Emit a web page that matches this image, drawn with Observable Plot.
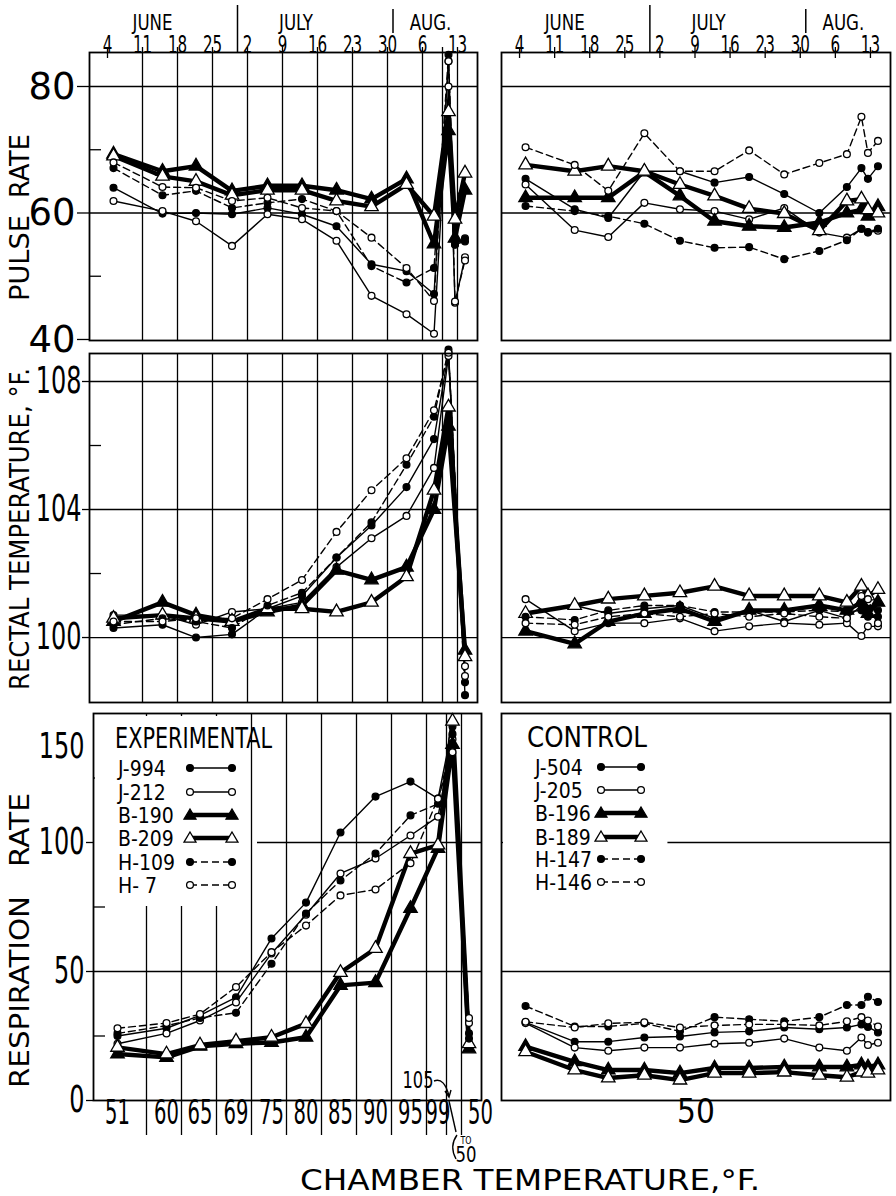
<!DOCTYPE html>
<html><head><meta charset="utf-8">
<script src="https://cdn.jsdelivr.net/npm/d3@7"></script>
<script src="https://cdn.jsdelivr.net/npm/@observablehq/plot@0.6"></script>
<style>
html,body{margin:0;padding:0;background:#fff;}
#fig{position:relative;width:896px;height:1196px;overflow:hidden;background:#fff;}
#fig svg{position:absolute;}
</style></head><body><div id="fig"></div>
<script>
// ---------- DATA ----------
// day of the summer (June 1 = 1, July 2 = 32, Aug 13 = 74) of each observation
const days = [5.2, 15, 21.7, 28.9, 36, 42.9, 49.8, 56.8, 63.8, 69.3, 72.2, 73.5, 75.5];
const expIds = ["J-994", "J-212", "B-190", "B-209", "H-109", "H- 7"];
const ctlIds = ["J-504", "J-205", "B-196", "B-189", "H-147", "H-146"];
const dateTicks = [4, 11, 18, 25, 32, 39, 46, 53, 60, 67, 74];
const dateLabels = ["4", "11", "18", "25", "2", "9", "16", "23", "30", "6", "13"];
const months = ["JUNE", "JULY", "AUG."];
const monthDays = [13, 41.7, 68.6];
const monthBreaks = [30, 61.1];
const gridDays = [11, 18, 25, 32, 39, 46, 53, 60, 67, 71, 74];
const chamberTemps = ["51", "60", "65", "69", "75", "80", "85", "90", "95", "99"];
const chamberEnd = "50";
const controlChamber = "50";

// Pulse rate (rows follow expIds / ctlIds)
const expPulse = [
  [64.0, 59.9, 60.0, 59.8, 60.8, 59.8, 57.9, 51.9, 50.8, 47.2, 84.0, 55.0, 55.5],
  [61.9, 60.3, 58.7, 54.8, 59.8, 59.0, 55.6, 46.9, 44.0, 40.9, 80.0, 45.8, 53.0],
  [69.3, 66.6, 67.4, 63.5, 64.3, 64.3, 63.6, 62.2, 65.4, 55.1, 73.0, 56.0, 63.6],
  [69.0, 65.8, 65.0, 62.8, 63.6, 63.6, 61.9, 61.0, 64.5, 59.5, 76.0, 59.0, 66.3],
  [67.1, 62.8, 63.5, 60.8, 61.6, 62.2, 60.3, 51.6, 49.0, 51.3, 85.0, 55.0, 56.0],
  [68.0, 64.1, 64.0, 61.9, 62.4, 60.8, 60.3, 56.1, 51.3, 46.1, 84.0, 46.0, 52.5]
];
const ctlPulse = [
  [65.4, 60.6, 59.2, 66.6, 66.6, 64.8, 65.7, 63.0, 60.0, 64.1, 67.1, 65.4, 67.4],
  [64.5, 57.3, 56.2, 61.6, 60.6, 60.3, 59.0, 60.8, 56.9, 56.1, 57.5, 56.9, 57.2],
  [62.4, 62.4, 62.4, 66.5, 62.7, 58.7, 57.9, 57.7, 58.5, 60.0, 60.5, 59.5, 61.0],
  [67.6, 66.6, 67.4, 66.6, 64.5, 62.7, 60.7, 59.9, 57.2, 61.9, 62.2, 60.5, 60.0],
  [61.1, 60.3, 59.5, 58.3, 55.6, 54.5, 54.6, 52.7, 54.0, 55.7, 57.5, 57.0, 57.5],
  [70.4, 67.6, 63.5, 72.6, 66.6, 66.6, 69.9, 66.1, 67.9, 69.3, 75.2, 69.5, 71.4]
];
// Rectal temperature, °F
const expRectal = [
  [100.3, 100.4, 100.0, 100.1, 100.9, 101.3, 102.5, 103.5, 104.7, 106.2, 108.9, null, 98.6],
  [100.7, 100.7, 100.4, 100.8, 100.9, 101.1, 102.2, 103.1, 103.8, 105.3, 108.8, null, 99.1],
  [100.5, 101.1, 100.7, 100.5, 100.8, 101.0, 102.1, 101.8, 102.2, 104.0, 106.6, null, 99.6],
  [100.6, 100.7, 100.6, 100.5, 100.9, 100.9, 100.8, 101.1, 101.9, 104.6, 107.2, null, 99.4],
  [100.4, 100.6, 100.5, 100.3, 101.0, 101.4, 102.5, 103.6, 105.4, 106.9, 109.0, null, 98.2],
  [100.5, 100.5, 100.6, 100.6, 101.2, 101.8, 103.3, 104.6, 105.6, 107.1, 108.9, null, 98.8]
];
const ctlRectal = [
  [100.75, 101.0, 100.75, 100.9, 101.0, 100.6, 100.85, 100.5, 100.85, 100.6, 101.0, 100.65, 100.65],
  [101.2, 100.2, 100.45, 100.45, 100.6, 100.2, 100.35, 100.45, 100.4, 100.45, 100.05, 100.35, 100.35],
  [100.2, 99.8, 100.5, 100.75, 100.9, 100.5, 100.85, 100.85, 101.0, 100.85, 101.1, 100.75, 101.1],
  [100.75, 101.0, 101.2, 101.3, 101.4, 101.6, 101.3, 101.3, 101.3, 101.1, 101.6, 101.3, 101.5],
  [100.65, 100.55, 100.85, 101.0, 101.0, 100.8, 100.8, 100.8, 100.85, 100.8, 100.85, 100.9, 100.85],
  [100.45, 100.4, 100.65, 100.75, 100.65, 100.75, 100.65, 100.75, 100.65, 100.6, 101.3, 101.2, 100.45]
];
// Respiration rate
const expResp = [
  [25, 28, 33, 40, 62.8, 76.7, 103.9, 117.8, 123.6, 117, 145, null, 26],
  [22, 26, 31, 38, 57, 72, 88, 93.8, 102.7, 110, 140, null, 30],
  [18, 16.7, 21, 22, 22.5, 24.5, 44.6, 45.7, 74.4, 97.7, 138, null, 20],
  [20.6, 18, 21.5, 23, 24.5, 29.8, 49.6, 58.9, 95.7, 99, 147, null, 22],
  [26, 29, 32, 34, 53, 72.5, 85.3, 95.7, 110.5, 115, 142, null, 24],
  [28, 30, 33.5, 44, 57.5, 67.8, 79.5, 81.8, 92, 117, 135, null, 32]
];
const ctlResp = [
  [30.3, 22.8, 22.8, 24.4, 24.8, 26.4, 26.8, 28.3, 27.6, 28.3, 29.5, 28.5, 26.4],
  [30.0, 20.5, 19.3, 20.5, 20.5, 22.0, 22.4, 24.0, 20.5, 19.3, 24.4, 21.5, 22.4],
  [20.9, 15.0, 11.8, 11.8, 10.6, 12.6, 12.6, 13.0, 13.0, 13.0, 13.8, 13.0, 13.8],
  [18.9, 11.8, 8.7, 9.8, 7.9, 10.6, 10.6, 11.0, 9.8, 9.0, 11.0, 10.6, 11.8],
  [36.6, 28.7, 28.7, 29.9, 26.8, 32.3, 31.5, 30.7, 32.3, 37.0, 37.0, 40.2, 38.2],
  [30.5, 28.3, 29.9, 30.3, 28.3, 29.1, 29.5, 29.5, 29.1, 30.7, 32.3, 31.0, 28.7]
];

// ---------- STYLE / LAYOUT ----------
const FONT = '"DejaVu Sans Condensed","DejaVu Sans",sans-serif';
const seriesStyle = [
  {w: 1.4, dash: undefined, sym: "circle", fill: "black", r: 3.4},
  {w: 1.4, dash: undefined, sym: "circle", fill: "white", r: 3.4},
  {w: 4.4, dash: undefined, sym: "triangle", fill: "black", r: 5.0},
  {w: 4.4, dash: undefined, sym: "triangle", fill: "white", r: 5.0},
  {w: 1.4, dash: "7,4", sym: "circle", fill: "black", r: 3.4},
  {w: 1.4, dash: "7,4", sym: "circle", fill: "white", r: 3.4}
];
const xDomain = [0.4, 78];
const pulseDomain = [39.84, 85.375];
const rectalDomain = [97.97, 108.875];
const respDomain = [0, 150];
const rows = {pulse: [52, 340], rectal: [353, 702], resp: [713, 1100]};
const colL = [89, 477], colLresp = [93, 481], colR = [501, 890];
// font sizes double as selectors for horizontal text compression
const FS = {date: 24, month: 21, pulseY: 38, otherY: 37, top150: 36, chamber: 34, ctlChamber: 33};
const fig = document.getElementById("fig");

function seriesMarks(table, ids) {
  const lines = [], dots = [];
  table.forEach((vals, k) => {
    const s = seriesStyle[k];
    const pts = vals.map((v, i) => ({id: ids[k], x: days[i], y: v})).filter(p => p.y != null);
    lines.push(Plot.line(pts, {x: "x", y: "y", stroke: "black", strokeWidth: s.w,
      strokeDasharray: s.dash, strokeLinejoin: "round", strokeLinecap: "round"}));
    dots.push(Plot.dot(pts, {x: "x", y: "y", symbol: s.sym, r: s.r, fill: s.fill,
      stroke: "black", strokeWidth: 1.3}));
  });
  return [...lines, ...dots];
}

function squeeze(svg, size, f) {
  svg.querySelectorAll(`g[font-size="${size}"] text`).forEach(t => {
    const L = t.getComputedTextLength();
    if (L > 0) { t.setAttribute("textLength", L * f); t.setAttribute("lengthAdjust", "spacingAndGlyphs"); }
  });
}

function panel({cols, row, yDomain, yAxis, marks, squeezes = []}) {
  const ml = 95, mr = 20, mt = 58, mb = 50;
  const [x0, x1] = cols, [y0, y1] = row;
  const svg = Plot.plot({
    width: x1 - x0 + ml + mr, height: y1 - y0 + mt + mb,
    marginLeft: ml, marginRight: mr, marginTop: mt, marginBottom: mb,
    x: {domain: xDomain, axis: null, label: null},
    y: yAxis ? {domain: yDomain, label: null} : {domain: yDomain, axis: null, label: null},
    style: {background: "transparent", overflow: "visible", fontFamily: FONT, color: "black"},
    marks
  });
  svg.style.position = "absolute";
  svg.style.left = (x0 - ml) + "px";
  svg.style.top = (y0 - mt) + "px";
  fig.appendChild(svg);
  squeezes.forEach(([size, f]) => squeeze(svg, size, f));
  return svg;
}

// helpers converting pixel offsets into scale units
const ky = (dom, row) => (row[1] - row[0]) / (dom[1] - dom[0]);
const kx = (cols) => (cols[1] - cols[0]) / (xDomain[1] - xDomain[0]);

function topAxisMarks(dom, row, leftStyle) {
  const k = ky(dom, row), top = dom[1];
  const m = [];
  m.push(Plot.ruleX(leftStyle ? [dateTicks[0]] : dateTicks, {y1: top - 6 / k, y2: top + 5 / k, strokeWidth: 1.3}));
  const breakTop = [47, 43], breakBot = [0, 19];
  monthBreaks.forEach((d, i) => m.push(Plot.ruleX([d], {y1: top + breakBot[i] / k, y2: top + breakTop[i] / k, strokeWidth: 1.5})));
  m.push(Plot.text(dateTicks, {x: d => d, text: (d, i) => dateLabels[i], frameAnchor: "top",
    lineAnchor: "bottom", dy: 0, fontSize: FS.date}));
  m.push(Plot.text(months, {x: (d, i) => monthDays[i], text: d => d, frameAnchor: "top",
    lineAnchor: "bottom", dy: -23, fontSize: FS.month}));
  return m;
}

// ---------- LEFT: EXPERIMENTAL ----------
{
  const dom = pulseDomain, row = rows.pulse, k = ky(dom, row), kxx = kx(colL);
  panel({cols: colL, row, yDomain: dom, yAxis: true, marks: [
    Plot.ruleY([60, 80], {strokeWidth: 1.3}),
    Plot.ruleX(gridDays, {y1: dom[0], y2: dom[1] + 5 / k, strokeWidth: 1.3}),
    Plot.ruleY([50, 70], {x1: xDomain[0], x2: xDomain[0] + 12 / kxx, strokeWidth: 1.3}),
    ...topAxisMarks(dom, row, true),
    ...seriesMarks(expPulse, expIds),
    Plot.frame({strokeWidth: 1.8}),
    Plot.axisY([40, 60, 80], {anchor: "left", label: null, tickSize: 12, tickPadding: 2, fontSize: FS.pulseY, tickFormat: d => String(d), strokeWidth: 1.3})
  ], squeezes: [[FS.date, 0.7], [FS.month, 0.88], [FS.pulseY, 1.08]]});
}
{
  const dom = rectalDomain, row = rows.rectal, kxx = kx(colL);
  panel({cols: colL, row, yDomain: dom, yAxis: true, marks: [
    Plot.ruleY([100, 104, 108], {strokeWidth: 1.3}),
    Plot.ruleX(gridDays, {y1: dom[0], y2: dom[1], strokeWidth: 1.3}),
    Plot.ruleY([102, 106], {x1: xDomain[0], x2: xDomain[0] + 12 / kxx, strokeWidth: 1.3}),
    ...seriesMarks(expRectal, expIds),
    Plot.frame({strokeWidth: 1.8}),
    Plot.axisY([100, 104, 108], {anchor: "left", label: null, tickSize: 7, tickPadding: 1, fontSize: FS.otherY, tickFormat: d => String(d), strokeWidth: 1.3})
  ], squeezes: [[FS.otherY, 0.72]]});
}
{
  const dom = respDomain, row = rows.resp, k = ky(dom, row), kxx = kx(colLresp);
  panel({cols: colLresp, row, yDomain: dom, yAxis: true, marks: [
    Plot.ruleY([50], {strokeWidth: 1.3}),
    Plot.ruleY([100], {x1: 33.2, x2: xDomain[1], strokeWidth: 1.3}),
    Plot.ruleX(gridDays, {y1: dom[0] - 35 / k, y2: dom[1], strokeWidth: 1.3}),
    Plot.ruleY([25, 75, 125], {x1: xDomain[0], x2: xDomain[0] + 12 / kxx, strokeWidth: 1.3}),
    ...seriesMarks(expResp, expIds),
    Plot.frame({strokeWidth: 1.8}),
    Plot.axisY([0, 50, 100], {anchor: "left", label: null, tickSize: 7, tickPadding: 2, fontSize: FS.otherY, tickFormat: d => String(d), strokeWidth: 1.3}),
    Plot.text([150], {y: d => d, text: d => String(d), frameAnchor: "left", textAnchor: "end", dx: -9, dy: 33, fontSize: FS.top150}),
    Plot.text(chamberTemps, {x: (d, i) => days[i], text: d => d, frameAnchor: "bottom", dy: 23, fontSize: FS.chamber}),
    Plot.text([chamberEnd], {x: () => 77.8, text: d => d, frameAnchor: "bottom", dy: 23, fontSize: FS.chamber})
  ], squeezes: [[FS.otherY, 0.72], [FS.top150, 0.74], [FS.chamber, 0.64]]});
}

// ---------- RIGHT: CONTROL ----------
{
  const dom = pulseDomain, row = rows.pulse;
  panel({cols: colR, row, yDomain: dom, yAxis: false, marks: [
    Plot.ruleY([60, 80], {strokeWidth: 1.3}),
    ...topAxisMarks(dom, row, false),
    ...seriesMarks(ctlPulse, ctlIds),
    Plot.frame({strokeWidth: 1.8})
  ], squeezes: [[FS.date, 0.7], [FS.month, 0.88]]});
}
{
  const dom = rectalDomain, row = rows.rectal;
  panel({cols: colR, row, yDomain: dom, yAxis: false, marks: [
    Plot.ruleY([100, 104, 108], {strokeWidth: 1.3}),
    ...seriesMarks(ctlRectal, ctlIds),
    Plot.frame({strokeWidth: 1.8})
  ]});
}
{
  const dom = respDomain, row = rows.resp, kxx = kx(colR);
  panel({cols: colR, row, yDomain: dom, yAxis: false, marks: [
    Plot.ruleY([50], {strokeWidth: 1.3}),
    Plot.ruleY([100], {x1: 33.6, x2: xDomain[1], strokeWidth: 1.3}),
    Plot.ruleY([100], {x1: xDomain[0], x2: xDomain[0] + 8 / kxx, strokeWidth: 1.3}),
    ...seriesMarks(ctlResp, ctlIds),
    Plot.frame({strokeWidth: 1.8}),
    Plot.text([controlChamber], {text: d => d, frameAnchor: "bottom", dy: 22, fontSize: FS.ctlChamber})
  ]});
}

// ---------- OVERLAY: titles, annotations, legends ----------
const ov = d3.select(fig).append("svg")
  .attr("width", 896).attr("height", 1196)
  .style("left", "0px").style("top", "0px")
  .style("font-family", FONT);

function txt(t, x, y, size, len, opts = {}) {
  const e = ov.append("text").attr("x", x).attr("y", y).attr("font-size", size)
    .attr("text-anchor", opts.anchor || "middle").attr("fill", "black").text(t);
  if (len) e.attr("textLength", len).attr("lengthAdjust", "spacingAndGlyphs");
  if (opts.rotate) e.attr("transform", `rotate(-90,${x},${y})`);
  return e;
}
// vertical axis titles
txt("PULSE", 29, 258, 27, 86, {rotate: true});
txt("RATE", 29, 166, 27, 64, {rotate: true});
txt("RECTAL TEMPERATURE, °F.", 29, 529, 27, 322, {rotate: true});
txt("RESPIRATION", 29, 992, 27, 192, {rotate: true});
txt("RATE", 29, 830, 27, 74, {rotate: true});
// x title
txt("CHAMBER TEMPERATURE,°F.", 530, 1190, 28, 460);
// 105 -> 50 annotation
txt("105", 418, 1088, 23, 31);
ov.append("path").attr("d", "M434,1081 C441,1078 446,1084 449,1096 M445,1091 L449,1097 L451,1090")
  .attr("fill", "none").attr("stroke", "black").attr("stroke-width", 1.4);
ov.append("path").attr("d", "M449,1101 L456,1132").attr("stroke", "black").attr("stroke-width", 1.4);
ov.append("path").attr("d", "M457,1135 Q449,1146 456,1159").attr("fill", "none").attr("stroke", "black").attr("stroke-width", 1.4);
txt("TO", 466, 1144, 10, 11);
txt("50", 466, 1162, 22, 21);

// legends
function legend(title, ids, x0, y0, w, h, titleX, titleLen, nameX, rowsY, sx1, sx2) {
  ov.append("rect").attr("x", x0).attr("y", y0).attr("width", w).attr("height", h).attr("fill", "white");
  txt(title, titleX, rowsY[0] - 20, 29, titleLen, {anchor: "start"});
  ids.forEach((id, k) => {
    const s = seriesStyle[k], y = rowsY[k];
    txt(id, nameX, y + 8, 21, null, {anchor: "start"});
    ov.append("line").attr("x1", sx1).attr("x2", sx2).attr("y1", y).attr("y2", y)
      .attr("stroke", "black").attr("stroke-width", s.w).attr("stroke-dasharray", s.dash || null);
    [sx1, sx2].forEach(cx => {
      if (s.sym === "circle") {
        ov.append("circle").attr("cx", cx).attr("cy", y).attr("r", s.r).attr("fill", s.fill)
          .attr("stroke", "black").attr("stroke-width", 1.3);
      } else {
        const r = s.r + 1;
        ov.append("path").attr("d", `M${cx},${y - r} L${cx + r},${y + r * 0.7} L${cx - r},${y + r * 0.7} Z`)
          .attr("fill", s.fill).attr("stroke", "black").attr("stroke-width", 1.3);
      }
    });
  });
}
legend("EXPERIMENTAL", expIds, 95, 716, 155, 190, 115, 157, 118, [768, 792, 815, 838, 862, 885], 190, 232);
legend("CONTROL", ctlIds, 503, 716, 160, 186, 527, 120, 535, [767, 790, 813, 837, 859, 882], 601, 641);
</script></body></html>
